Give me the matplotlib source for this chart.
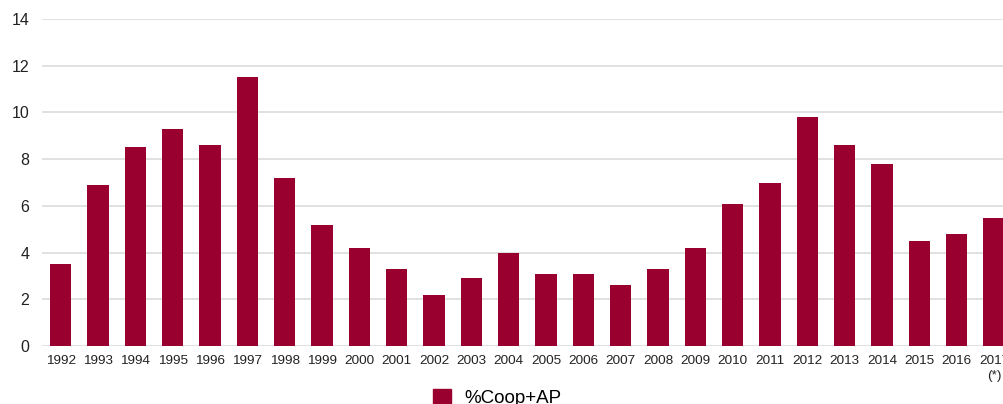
import matplotlib
matplotlib.use("Agg")
import matplotlib.pyplot as plt
from matplotlib.patches import Patch

years = [str(y) for y in range(1992, 2017)] + ["2017\n(*)"]
values = [3.5, 6.9, 8.5, 9.3, 8.6, 11.5, 7.2, 5.2, 4.2, 3.3, 2.2, 2.9, 4.0,
          3.1, 3.1, 2.6, 3.3, 4.2, 6.1, 7.0, 9.8, 8.6, 7.8, 4.5, 4.8, 5.5]
series_name = "%Coop+AP"
bar_color = "#990030"

plt.rcParams["font.family"] = ["Liberation Sans", "DejaVu Sans"]

fig = plt.figure(figsize=(10.04, 4.04), dpi=100)
ax = fig.add_axes([42 / 1004, 1 - 346 / 404, 1 - 42 / 1004, (346 - 19) / 404])

x = list(range(len(years)))
ax.bar(x, values, width=0.57, color=bar_color, zorder=3)

ax.set_ylim(0, 14)
ax.set_yticks(range(0, 15, 2))
ax.set_xlim(-0.5, 25.27)
ax.set_xticks(x)
ax.set_xticklabels(years, fontsize=9.7, color="#222222", linespacing=1.3)
ax.tick_params(axis="y", length=0, pad=9, labelsize=11.5, labelcolor="#222222")
ax.tick_params(axis="x", length=0, pad=6.5)
ax.grid(axis="y", color="#d9d9d9", linewidth=1.1, zorder=0)
for s in ax.spines.values():
    s.set_visible(False)

fig.legend(handles=[Patch(color=bar_color, label=series_name)],
           loc="center", bbox_to_anchor=(497 / 1004, 1 - 398 / 404),
           frameon=False, fontsize=13.5, handlelength=0.95, handleheight=1.0,
           handletextpad=0.7, borderpad=0)

fig.savefig("out.png", dpi=100)
